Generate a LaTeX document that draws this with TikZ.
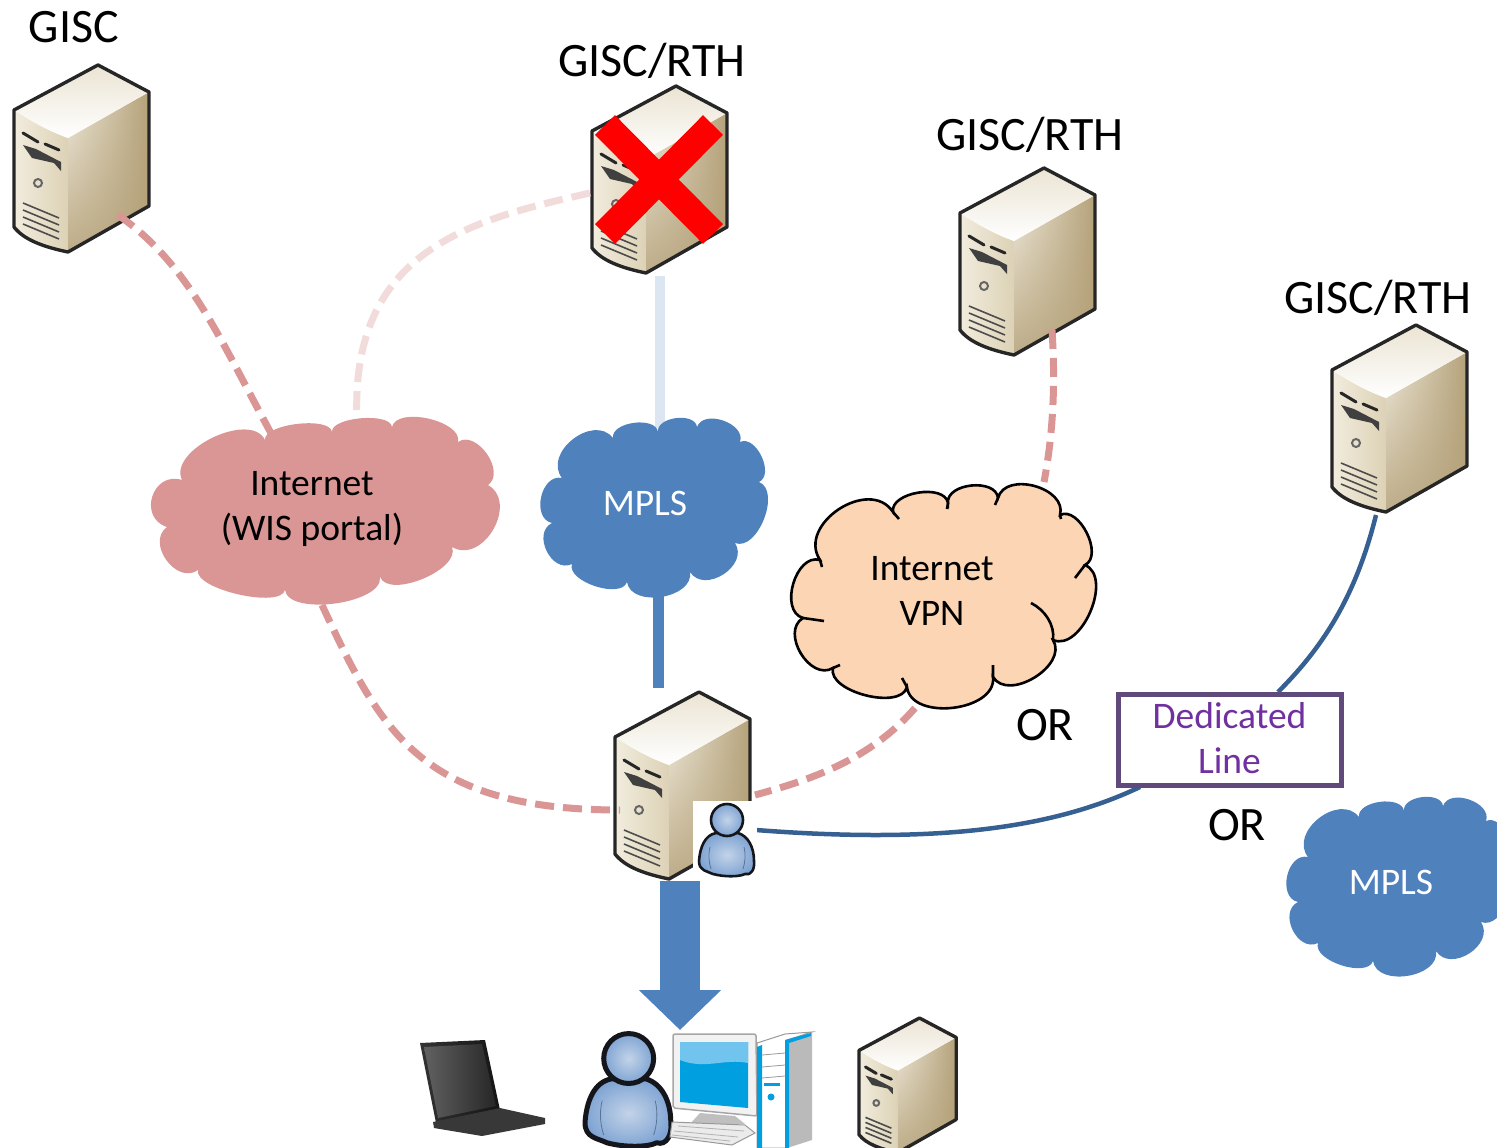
\documentclass[tikz,border=0pt]{standalone}
\usepackage{fontspec}
\setmainfont{Carlito}
\usetikzlibrary{calc,arrows.meta,fadings}
\definecolor{pinkc}{HTML}{D99694}
\definecolor{palepink}{HTML}{F2DCDB}
\definecolor{blued}{HTML}{4F81BD}
\definecolor{paleblue}{HTML}{DCE6F2}
\definecolor{navyl}{HTML}{376092}
\definecolor{peach}{HTML}{FCD5B5}
\definecolor{boxl}{HTML}{604A7B}
\definecolor{purp}{HTML}{7030A0}
\definecolor{tanA}{HTML}{B5A27A}
\definecolor{tanB}{HTML}{EFEADC}
\definecolor{creamA}{HTML}{F1ECDD}
\definecolor{creamB}{HTML}{DDD2B6}
\definecolor{persA}{HTML}{C3D3E8}
\definecolor{persB}{HTML}{7FA4D3}
\definecolor{persL}{HTML}{14161C}
\definecolor{skyA}{HTML}{00A0E0}
\definecolor{skyB}{HTML}{70C4EE}
\def\perslw{2.6pt}
\tikzset{
  bump/.style={to path={.. controls ($(\tikztostart)!#1!90:(\tikztotarget)$) and ($(\tikztotarget)!#1!-90:(\tikztostart)$) .. (\tikztotarget)}},
  bump/.default=0.6,
  bigtext/.style={font=\fontsize{48}{54}\selectfont,inner sep=0pt},
  midtext/.style={font=\fontsize{37.5}{45}\selectfont,inner sep=0pt,align=center},
  pinkdash/.style={draw=pinkc,line width=7pt,dash pattern=on 19pt off 9pt},
  palepinkdash/.style={draw=palepink,line width=7pt,dash pattern=on 19pt off 9pt},
  navyline/.style={draw=navyl,line width=4.5pt},
  server/.pic={
    \path[left color=creamA,right color=creamB] (0,45) .. controls (20,58) and (35,66) .. (54,73) -- (54,187) .. controls (30,182) and (10,175) .. (0,162) -- cycle;
    \path[left color=tanB,middle color=white,right color=tanA] (54,73) -- (135,27) -- (135,141) -- (54,187) -- cycle;
    \fill[tanA,path fading=north,opacity=.85] (54,73) -- (135,27) -- (135,141) -- (54,187) -- cycle;
    \path[top color=creamB!60!white,bottom color=white] (84,0) -- (135,27) -- (54,73) .. controls (35,66) and (20,58) .. (0,45) -- cycle;
    \draw[black!85,line width=3.4pt,line join=round] (84,0) -- (135,27) -- (135,141) -- (54,187) .. controls (30,182) and (10,175) .. (0,162) -- (0,45) -- cycle;
    \draw[black!85,line width=3pt,line cap=round] (9,68) -- (24,77) (31,79) -- (45,85);
    \fill[black!75] (9,80) -- (22,84) -- (47,97) -- (47,106) -- (40,98) -- (18,93) -- cycle;
    \draw[black!60,line width=2pt] (24,118) circle (4);
    \draw[black!70,line width=1.6pt] (9,138) -- (45,153) (9,145) -- (45,160) (9,152) -- (45,167) (9,159) -- (45,174);
  },
  person/.pic={
    \path[inner color=persA,outer color=persB,draw=persL,line width=\perslw,line join=round]
      (17,30) .. controls (6,32) and (1,44) .. (0,58) .. controls (0,68) and (8,68) .. (14,71) .. controls (25,74) and (40,74) .. (46,71) .. controls (52,73) and (56,66) .. (55,58) .. controls (55,44) and (49,33) .. (39,30) -- cycle;
    \draw[persB!70!black,line width=.8pt] (11,44) .. controls (9,52) and (10,60) .. (12,66) (45,44) .. controls (47,52) and (46,60) .. (44,66);
    \path[inner color=persA,outer color=persB,draw=persL,line width=\perslw] (28,17) circle (16);
  },
}
\begin{document}
\begin{tikzpicture}[x=1pt,y=-1pt]
\useasboundingbox (0,0) rectangle (1497,1148);
\clip (0,0) rectangle (1497,1148);
% connector end points
\coordinate (a1) at (118,215); \coordinate (a2) at (272,435);
\coordinate (b1) at (590,193); \coordinate (b2) at (357,420);
\coordinate (c1) at (660,276); \coordinate (c2) at (660,428);
\coordinate (d1) at (658.5,590); \coordinate (d2) at (658.5,688);
\coordinate (e1) at (322,605); \coordinate (e2) at (620,810);
\coordinate (f1) at (1052,330); \coordinate (f2) at (1044,482);
\coordinate (g1) at (915,708); \coordinate (g2) at (755,795);
\coordinate (h1) at (1376,515); \coordinate (h2) at (1278,692);
\coordinate (i1) at (756,830); \coordinate (i2) at (1140,787);
\coordinate (j1) at (680,881); \coordinate (j2) at (680,1030);
% servers
\pic at (14,65) {server};
\pic at (592,86) {server};
\pic at (960,168) {server};
\pic at (1332,325) {server};
\pic at (615,692) {server};
\pic[scale=.72] at (859,1018) {server};
% connectors
\draw[pinkdash] (a1) .. controls (190,265) and (220,340) .. (a2);
\draw[palepinkdash] (b1) .. controls (470,220) and (350,250) .. (b2);
\draw[paleblue,line width=10pt] (c1) -- (c2);
\draw[blued,line width=11pt] (d1) -- (d2);
\draw[pinkdash] (e1) .. controls (380,730) and (420,810) .. (e2);
\draw[pinkdash] (f1) .. controls (1056,390) and (1052,440) .. (f2);
\draw[pinkdash] (g1) .. controls (870,760) and (810,780) .. (g2);
\draw[navyline] (h1) .. controls (1355,600) and (1320,650) .. (h2);
\draw[navyline] (i1) .. controls (950,845) and (1060,825) .. (i2);
\draw[blued,line width=40pt,-{Triangle[length=40pt,width=80pt]}] (j1) -- (j2);
% red cross
\draw[red,line width=28pt] (605,125) -- (713,234) (713,125) -- (605,234);
% pink cloud
\fill[pinkc] (182,480) to[bump=.36] (265,440) to[bump=.24] (332,432) to[bump=.25] (392,427) to[bump=.32] (458,442) to[bump=.43] (488,485) to[bump=.5] (452,547) to[bump=.31] (380,577) to[bump=.28] (285,590) to[bump=.22] (198,570) to[bump=.5] (167,527) to[bump=.63] cycle;
% blue clouds
\fill[blued] (562,478) to[bump=.49] (613,438) to[bump=.36] (658,432) to[bump=.39] (697,427) to[bump=.43] (740,442) to[bump=.4] (759,482) to[bump=.37] (735,543) to[bump=.5] (690,572) to[bump=.42] (627,582) to[bump=.32] (572,564) to[bump=.5] (552,523) to[bump=.47] cycle;
\fill[blued,xshift=746pt,yshift=-379pt] (562,478) to[bump=.49] (613,438) to[bump=.36] (658,432) to[bump=.39] (697,427) to[bump=.43] (740,442) to[bump=.4] (759,482) to[bump=.37] (735,543) to[bump=.5] (690,572) to[bump=.42] (627,582) to[bump=.32] (572,564) to[bump=.5] (552,523) to[bump=.47] cycle;
% VPN cloud
\draw[fill=peach,line width=2.6pt] (820,560) to[bump=.49] (893,512) to[bump=.36] (948,503) to[bump=.4] (998,498) to[bump=.44] (1060,515) to[bump=.38] (1085,565) to[bump=.38] (1053,640) to[bump=.42] (993,677) to[bump=.4] (907,687) to[bump=.32] (833,668) to[bump=.46] (803,618) to[bump=.42] cycle;
\draw[line width=2.6pt] (820,560) -- (822,567) (893,512) -- (899,519) (948,503) -- (947,509) (998,498) -- (995,505) (1060,515) -- (1061,519) (1085,565) -- (1075,578) (1053,640) .. controls (1055,625) and (1045,610) .. (1031,603) (993,677) -- (993,665) (907,687) -- (902,678) (833,668) -- (840,665) (803,618) -- (824,621);
% box
\node[draw=boxl,line width=5pt,fill=white,minimum width=223pt,minimum height=91pt,inner sep=0pt] (box) at (1229.5,739.5) {};
\node[midtext,text=purp] (boxt) at (1229.5,738) {Dedicated\\Line};
% texts
\node[bigtext] (t1) at (74,27) {GISC};
\node[bigtext] (t2) at (652,61) {GISC/RTH};
\node[bigtext] (t3) at (1030,135) {GISC/RTH};
\node[bigtext] (t4) at (1378,298) {GISC/RTH};
\node[bigtext] (or1) at (1045,725) {OR};
\node[bigtext] (or2) at (1237,825) {OR};
\node[midtext] (c1t) at (312,509) {Internet\\(WIS portal)};
\node[midtext,text=white] (c2t) at (645,503) {MPLS};
\node[midtext,text=white] (c3t) at (1391,882) {MPLS};
\node[midtext] (c4t) at (932,591) {Internet\\VPN};
% small user with white backing
\fill[white] (693,801) rectangle (757,877);
\pic at (699,803) {person};
% big user
\def\perslw{5pt}
\pic[scale=1.56] at (585,1032) {person};
% laptop
\path[left color=black!80,right color=black!92] (420,1043) -- (485,1040) -- (500,1110) -- (436,1123) -- cycle;
\path[left color=black!62,right color=black!85] (424,1047) -- (482,1044) -- (496,1106) -- (438,1118) -- cycle;
\fill[black!78] (433,1122) -- (500,1108) -- (545,1118) -- (545,1124) -- (482,1136) -- (434,1128) -- cycle;
% computer
\draw[fill=black!5,draw=black!35,line width=1.5pt,rounded corners=2pt] (673,1034) -- (756,1034) -- (757,1116) -- (673,1108) -- cycle;
\fill[skyA] (680,1042) -- (748,1042) -- (748,1108) -- (680,1102) -- cycle;
\fill[skyB] (680,1042) -- (748,1042) -- (748,1063) .. controls (725,1058) and (705,1070) .. (680,1060) -- cycle;
\fill[black!25] (700,1113) -- (735,1116) -- (745,1124) -- (690,1124) -- cycle;
\draw[fill=black!8,draw=black!40,line width=1pt] (672,1122) -- (745,1125) -- (755,1133) -- (732,1145) -- (670,1137) -- cycle;
\draw[black!30,line width=.8pt] (678,1126) -- (744,1131) (674,1131) -- (738,1137) (672,1135) -- (730,1141);
\fill[black!27] (787,1040) -- (812,1033) -- (812,1140) -- (787,1148) -- cycle;
\draw[fill=white,draw=black!40,line width=1pt] (757,1043) -- (785,1034) -- (812,1032) -- (787,1040) -- (787,1148) -- (757,1148) -- cycle;
\fill[skyA] (785,1040) -- (811,1033) -- (811,1036) -- (789,1043) -- (789,1148) -- (785,1148) -- cycle;
\fill[skyA] (757,1047) -- (762,1045) -- (762,1148) -- (757,1148) -- cycle;
\draw[black!40,line width=.8pt] (762,1055) -- (785,1053) (762,1067) -- (785,1065) (762,1078) -- (785,1076);
\fill[skyA] (764,1083) rectangle (780,1086);
\fill[skyA] (771,1097) circle (3.5);
\end{tikzpicture}
\end{document}
